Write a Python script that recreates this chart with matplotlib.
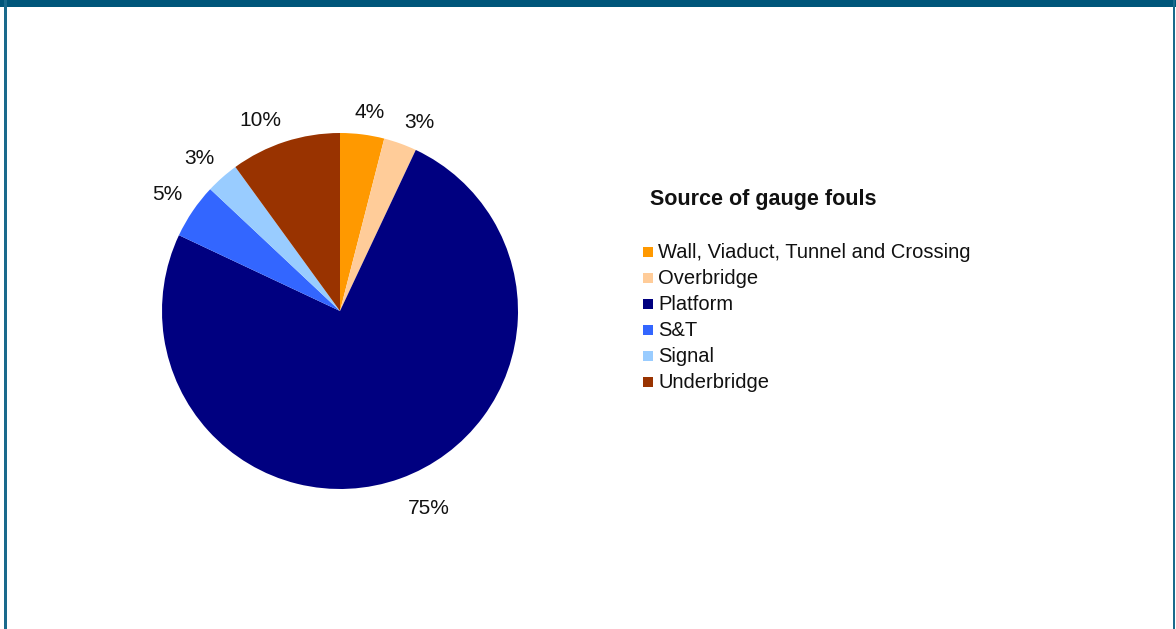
import numpy as np
import matplotlib.pyplot as plt
from matplotlib.patches import Rectangle

# gauge foul sources, percent of total
categories = ["Wall, Viaduct, Tunnel and Crossing", "Overbridge", "Platform",
              "S&T", "Signal", "Underbridge"]
shares = [4, 3, 75, 5, 3, 10]
colors = ["#FF9900", "#FFCC99", "#000080", "#3366FF", "#99CCFF", "#993300"]
legend_title = "Source of gauge fouls"

W, H = 1176, 629
plt.rcParams['font.family'] = ['Liberation Sans', 'DejaVu Sans']

fig = plt.figure(figsize=(W / 100, H / 100), dpi=100)
fig.patch.set_facecolor("white")

# frame: thick band on top, thin lines down the sides
fig.patches.append(Rectangle((0, 1 - 7 / H), 1, 7 / H, transform=fig.transFigure,
                             facecolor="#00567A", edgecolor="none"))
fig.patches.append(Rectangle((4 / W, 0), 3 / W, 1, transform=fig.transFigure,
                             facecolor="#1A6A8C", edgecolor="none"))
fig.patches.append(Rectangle((1173 / W, 0), 2 / W, 1, transform=fig.transFigure,
                             facecolor="#1A6A8C", edgecolor="none"))

# pie, clockwise from 12 o'clock
cx, cy, r = 340, 311, 178
ax = fig.add_axes([(cx - r) / W, (H - cy - r) / H, 2 * r / W, 2 * r / H])
wedges, _ = ax.pie(shares, colors=colors, startangle=90, counterclock=False,
                   wedgeprops=dict(linewidth=0))

# percentage labels just outside the rim, aligned away from the pie
for w, v in zip(wedges, shares):
    ang = np.deg2rad((w.theta1 + w.theta2) / 2)
    x, y = np.cos(ang), np.sin(ang)
    if x > 0.2:
        ha = "left"
    elif x < -0.2:
        ha = "right"
    else:
        ha = "center"
    if y > 0:
        va, d = "bottom", 1.07
    else:
        va, d = "top", 1.12
    ax.text(d * x + (0.03 if ha == "center" else 0), d * y, f"{v}%",
            ha=ha, va=va, fontsize=15, color="#111111")

ax.set_xlim(-1, 1)
ax.set_ylim(-1, 1)
ax.set_aspect("auto")
ax.axis("off")

# legend
fig.text(650 / W, 1 - 200 / H, legend_title, fontsize=15.5, fontweight="bold",
         va="center", ha="left", color="#111111")
for i, (name, col) in enumerate(zip(categories, colors)):
    y = 252 + 26 * i
    fig.patches.append(Rectangle((643 / W, 1 - (y + 5) / H), 10 / W, 10 / H,
                                 transform=fig.transFigure, facecolor=col,
                                 edgecolor="none"))
    fig.text(658 / W, 1 - y / H, name, fontsize=14.5, va="center", ha="left",
             color="#111111")

fig.savefig("out.png", dpi=100)
